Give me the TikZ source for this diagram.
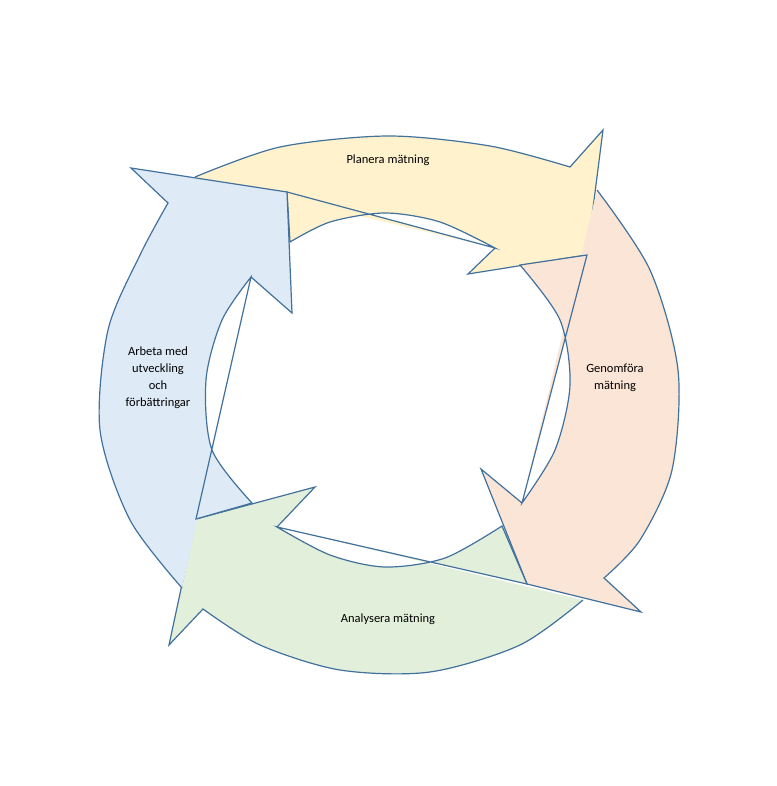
\documentclass[tikz,border=0pt]{standalone}
\usepackage{fontspec}
\setmainfont{Carlito}
\definecolor{edgeblue}{HTML}{41719C}
\definecolor{planfill}{HTML}{FFF2CC}
\definecolor{doFill}{HTML}{FBE5D6}
\definecolor{anaFill}{HTML}{E2EFDA}
\definecolor{actFill}{HTML}{DEEBF7}
\begin{document}
\begin{tikzpicture}[x=1pt,y=-1pt,
	seg/.style={draw=edgeblue,line width=1.2pt,line join=miter},
	label/.style={align=center,font=\fontsize{12.5}{17}\selectfont,inner sep=0pt}
]
	\useasboundingbox (0,0) rectangle (776,786);

	% Planera
	\draw[seg,fill=planfill] plot[smooth] coordinates {(195,177) (280,147) (388,136) (490,146) (570,167)}
		-- (603,130) -- (587,255) -- (468,274) -- (495,248)
		plot[smooth] coordinates {(495,248) (440,222) (385,213) (330,222) (290,242)}
		-- (287,192) -- cycle;
	% Genomfora
	\draw[seg,fill=doFill] plot[smooth] coordinates {(597,190) (650,270) (678,370) (672,470) (640,540) (604,578)}
		-- (641,612) -- (527,584) -- (481,469) -- (522,503)
		plot[smooth] coordinates {(522,503) (555,450) (570,385) (560,320) (520,265)}
		-- (587,255) -- cycle;
	% Analysera
	\draw[seg,fill=anaFill] plot[smooth] coordinates {(583,600) (520,645) (430,672) (340,670) (260,645) (203,609)}
		-- (169,645) -- (196,519) -- (315,487) -- (277,527)
		plot[smooth] coordinates {(277,527) (330,555) (385,567) (445,558) (502,526)}
		-- (527,584) -- cycle;
	% Arbeta
	\draw[seg,fill=actFill] plot[smooth] coordinates {(182,588) (130,520) (100,430) (108,330) (140,255) (168,203)}
		-- (131,168) -- (287,192) -- (292,313) -- (251,277)
		plot[smooth] coordinates {(251,277) (222,320) (206,380) (212,450) (252,503)}
		-- (196,519) -- cycle;

	\node[label] (plan) at (388,160) {Planera mätning};
	\node[label] (do) at (615,378) {Genomföra\\mätning};
	\node[label] (check) at (388,619) {Analysera mätning};
	\node[label] (act) at (158,378) {Arbeta med\\utveckling\\och\\förbättringar};
\end{tikzpicture}
\end{document}
